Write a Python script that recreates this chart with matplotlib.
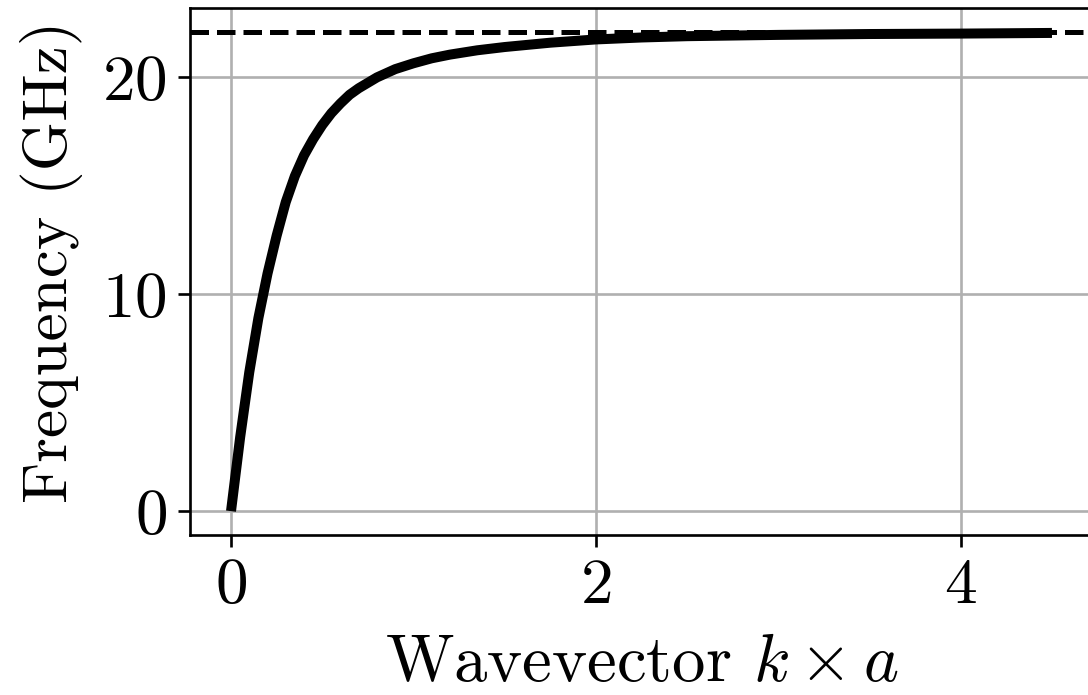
import matplotlib
matplotlib.use('Agg')
import matplotlib.pyplot as plt

# values
k_a = [0, 0.05, 0.1, 0.15, 0.2, 0.25, 0.3, 0.35, 0.4, 0.45, 0.5,
       0.55, 0.6, 0.65, 0.7, 0.8, 0.9, 1.0, 1.1, 1.2, 1.35, 1.5,
       1.75, 2.0, 2.25, 2.5, 3.0, 3.5, 4.0, 4.5]
freq = [0, 3.4, 6.4, 8.9, 10.95, 12.7, 14.25, 15.45, 16.4, 17.15, 17.8,
        18.35, 18.8, 19.2, 19.5, 20.0, 20.38, 20.65, 20.88, 21.05, 21.25, 21.4,
        21.6, 21.75, 21.84, 21.9, 21.96, 22.0, 22.02, 22.05]
f_limit = 22.1

plt.rcParams['font.family'] = 'serif'
plt.rcParams['font.serif'] = ['cmr10']
plt.rcParams['mathtext.fontset'] = 'cm'
plt.rcParams['axes.formatter.use_mathtext'] = True

s = 2.4  # line scale

fig = plt.figure(figsize=(10.88, 6.95), dpi=100)
ax = fig.add_axes([0.1746, 0.2302, 0.83, 0.7583])

ax.plot(k_a, freq, color='black', lw=3 * s, solid_capstyle='butt',
        solid_joinstyle='round', zorder=3)
ax.axhline(f_limit, color='black', ls='--', lw=1.5 * s, zorder=3)

ax.set_xlim(-0.225, 4.725)
ax.set_ylim(-1.1, 23.2)
ax.set_xticks([0, 2, 4])
ax.set_yticks([0, 10, 20])
ax.grid(True, color='#b0b0b0', lw=0.8 * s)
ax.set_axisbelow(True)

for sp in ax.spines.values():
    sp.set_linewidth(0.8 * s)
ax.tick_params(labelsize=47, width=0.8 * s, length=3.5 * s, pad=3.5 * s)

ax.set_xlabel('Wavevector $k \\times a$', fontsize=48, labelpad=13)
ax.set_ylabel('Frequency (GHz)', fontsize=45.5)
ax.yaxis.set_label_coords(-0.1185, 0.518)

fig.savefig('out.png', dpi=100)
